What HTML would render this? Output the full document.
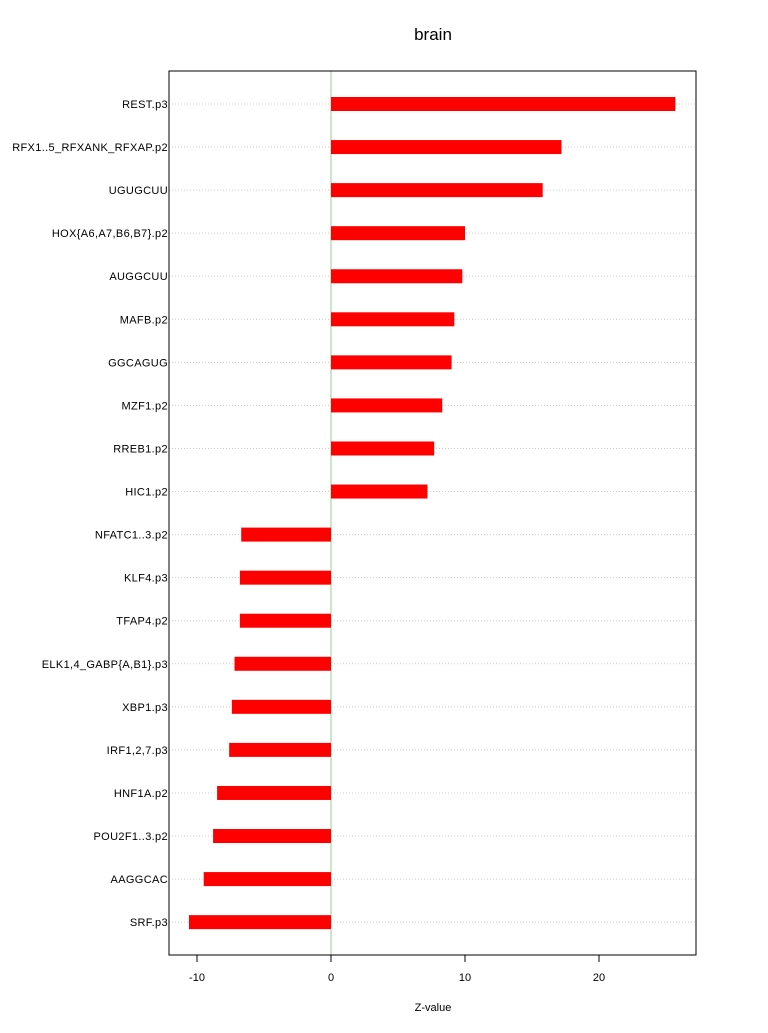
<!DOCTYPE html>
<html><head><meta charset="utf-8"><style>
body{margin:0;background:#fff;}
svg text{font-family:"Liberation Sans",sans-serif;}
</style></head><body>
<svg id="chart" width="768" height="1028"></svg>
<script>
const categories=["REST.p3","RFX1..5_RFXANK_RFXAP.p2","UGUGCUU","HOX{A6,A7,B6,B7}.p2","AUGGCUU","MAFB.p2","GGCAGUG","MZF1.p2","RREB1.p2","HIC1.p2","NFATC1..3.p2","KLF4.p3","TFAP4.p2","ELK1,4_GABP{A,B1}.p3","XBP1.p3","IRF1,2,7.p3","HNF1A.p2","POU2F1..3.p2","AAGGCAC","SRF.p3"];
const values=[25.7,17.2,15.8,10.0,9.8,9.2,9.0,8.3,7.7,7.2,-6.7,-6.8,-6.8,-7.2,-7.4,-7.6,-8.5,-8.8,-9.5,-10.6];
const xTicks=[-10,0,10,20];
const NS="http://www.w3.org/2000/svg";
const svg=document.getElementById('chart');
const L=169,R=696,T=71,B=955;
const x=v=>331+v*13.4;
const y=i=>104+i*43.06;
function mk(t,a){const e=document.createElementNS(NS,t);for(const k in a)e.setAttribute(k,a[k]);svg.appendChild(e);return e;}
let t=mk('text',{x:433,y:40,'text-anchor':'middle','font-size':17});t.textContent='brain';


categories.forEach((c,i)=>{
 const g=mk('line',{x1:L,x2:R,y1:y(i),y2:y(i),stroke:'#ccc','stroke-dasharray':'1,2'});
 
 
});
const z=mk('line',{x1:x(0),x2:x(0),y1:T,y2:B,stroke:'#9c9'});


categories.forEach((c,i)=>{
 const v=values[i];
 const b=mk('rect',{x:Math.min(x(0),x(v)),y:y(i)-7,width:Math.abs(x(v)-x(0)),height:14,fill:'#f00'});
 
 
 const l=mk('text',{x:L-1,y:y(i)+4,'text-anchor':'end','font-size':11,'letter-spacing':0.35});
 l.textContent=c;
 
 
});
const f=mk('rect',{x:L,y:T,width:R-L,height:B-T,fill:'none',stroke:'#000'});


xTicks.forEach(v=>{
 const tk=mk('line',{x1:x(v),x2:x(v),y1:B,y2:B+7,stroke:'#000'});
 
 
 const tl=mk('text',{x:x(v),y:B+26,'text-anchor':'middle','font-size':11});
 tl.textContent=v;
 
 
});
const xt=mk('text',{x:433,y:1011,'text-anchor':'middle','font-size':11});xt.textContent='Z-value';


</script>
</body></html>
